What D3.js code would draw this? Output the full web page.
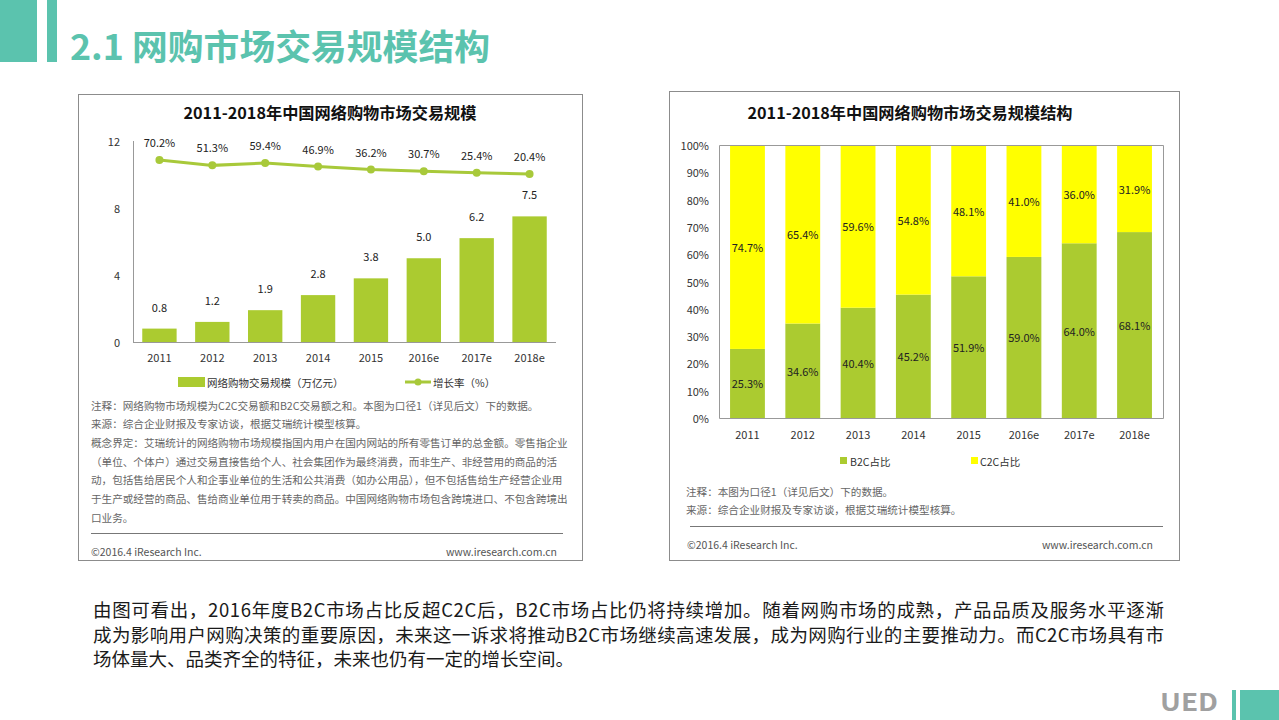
<!DOCTYPE html>
<html>
<head>
<meta charset="utf-8">
<script src="https://cdnjs.cloudflare.com/ajax/libs/d3/7.8.5/d3.min.js"></script>
<style>
  body { margin: 0; background: #fff; }
  svg { display: block; }
  text { font-family: "Noto Sans CJK SC", "Noto Sans", sans-serif; }
</style>
</head>
<body>
<div id="chart"></div>
<script>
// chart data
const years = ["2011", "2012", "2013", "2014", "2015", "2016e", "2017e", "2018e"];
const marketSize = [0.8, 1.2, 1.9, 2.8, 3.8, 5.0, 6.2, 7.5];     // 万亿元
const growthRate = [70.2, 51.3, 59.4, 46.9, 36.2, 30.7, 25.4, 20.4]; // %
const b2cShare = [25.3, 34.6, 40.4, 45.2, 51.9, 59.0, 64.0, 68.1];
const c2cShare = [74.7, 65.4, 59.6, 54.8, 48.1, 41.0, 36.0, 31.9];
const sizeTicks = [0, 4, 8, 12];
const shareTicks = [0, 10, 20, 30, 40, 50, 60, 70, 80, 90, 100];

const pageTitle = "2.1 网购市场交易规模结构";
const leftTitle = "2011-2018年中国网络购物市场交易规模";
const rightTitle = "2011-2018年中国网络购物市场交易规模结构";
const leftNotes = [
  "注释：网络购物市场规模为C2C交易额和B2C交易额之和。本图为口径1（详见后文）下的数据。",
  "来源：综合企业财报及专家访谈，根据艾瑞统计模型核算。",
  "概念界定：艾瑞统计的网络购物市场规模指国内用户在国内网站的所有零售订单的总金额。零售指企业",
  "（单位、个体户）通过交易直接售给个人、社会集团作为最终消费，而非生产、非经营用的商品的活",
  "动，包括售给居民个人和企事业单位的生活和公共消费（如办公用品），但不包括售给生产经营企业用",
  "于生产或经营的商品、售给商业单位用于转卖的商品。中国网络购物市场包含跨境进口、不包含跨境出",
  "口业务。"
];
const rightNotes = [
  "注释：本图为口径1（详见后文）下的数据。",
  "来源：综合企业财报及专家访谈，根据艾瑞统计模型核算。"
];
const paragraph = [
  "由图可看出，2016年度B2C市场占比反超C2C后，B2C市场占比仍将持续增加。随着网购市场的成熟，产品品质及服务水平逐渐",
  "成为影响用户网购决策的重要原因，未来这一诉求将推动B2C市场继续高速发展，成为网购行业的主要推动力。而C2C市场具有市",
  "场体量大、品类齐全的特征，未来也仍有一定的增长空间。"
];

const teal = "#5bc3ae", green = "#abcb30", lineGreen = "#a8c93a", yellow = "#ffff00";

const svg = d3.select("#chart").append("svg")
  .attr("width", 1279).attr("height", 720);

// header decoration + page title
svg.append("rect").attr("x", 0).attr("y", 0).attr("width", 37).attr("height", 62).attr("fill", teal);
svg.append("rect").attr("x", 47).attr("y", 0).attr("width", 10).attr("height", 62).attr("fill", teal);
svg.append("text").attr("x", 70).attr("y", 44)
  .attr("dominant-baseline", "central")
  .attr("font-size", 35).attr("font-weight", "bold").attr("fill", teal)
  .attr("textLength", 420).attr("lengthAdjust", "spacingAndGlyphs")
  .text(pageTitle);

// panel frames
svg.append("rect").attr("x", 78.5).attr("y", 94.5).attr("width", 504).attr("height", 466)
  .attr("fill", "none").attr("stroke", "#8c8c8c");
svg.append("rect").attr("x", 669.5).attr("y", 91.5).attr("width", 510).attr("height", 469)
  .attr("fill", "none").attr("stroke", "#8c8c8c");

// ---------------- left chart: market size + growth ----------------
const L = svg.append("g");
L.append("text").attr("x", 330).attr("y", 112).attr("text-anchor", "middle")
  .attr("dominant-baseline", "central").attr("font-size", 16).attr("font-weight", "bold")
  .attr("fill", "#111").attr("textLength", 293).attr("lengthAdjust", "spacingAndGlyphs")
  .text(leftTitle);

const xL = d3.scaleBand().domain(years).range([133, 556]).paddingInner(0.35).paddingOuter(0.175);
const yL = d3.scaleLinear().domain([0, 12]).range([342, 141]);
// hidden secondary axis for the growth line
const yG = d3.scaleLinear().domain([-577, 138]).range([342, 141]);

L.append("line").attr("x1", 133.5).attr("x2", 133.5).attr("y1", 141).attr("y2", 342).attr("stroke", "#999");
L.append("line").attr("x1", 133).attr("x2", 556).attr("y1", 342.5).attr("y2", 342.5).attr("stroke", "#999");

L.selectAll(".ytick").data(sizeTicks).enter().append("text")
  .attr("x", 120).attr("y", d => yL(d)).attr("text-anchor", "end")
  .attr("dominant-baseline", "central").attr("font-size", 11).attr("fill", "#333")
  .text(d => d);

L.selectAll(".xtick").data(years).enter().append("text")
  .attr("x", d => xL(d) + xL.bandwidth() / 2).attr("y", 357).attr("text-anchor", "middle")
  .attr("dominant-baseline", "central").attr("font-size", 11).attr("fill", "#333")
  .text(d => d);

L.selectAll(".bar").data(marketSize).enter().append("rect")
  .attr("x", (d, i) => xL(years[i])).attr("y", d => yL(d))
  .attr("width", xL.bandwidth()).attr("height", d => yL(0) - yL(d))
  .attr("fill", green);

L.selectAll(".barlab").data(marketSize).enter().append("text")
  .attr("x", (d, i) => xL(years[i]) + xL.bandwidth() / 2).attr("y", d => yL(d) - 22)
  .attr("text-anchor", "middle").attr("dominant-baseline", "central")
  .attr("font-size", 11).attr("fill", "#222")
  .text(d => d.toFixed(1));

const line = d3.line()
  .x((d, i) => xL(years[i]) + xL.bandwidth() / 2)
  .y(d => yG(d));
L.append("path").datum(growthRate).attr("d", line)
  .attr("fill", "none").attr("stroke", lineGreen).attr("stroke-width", 3);
L.selectAll(".dot").data(growthRate).enter().append("circle")
  .attr("cx", (d, i) => xL(years[i]) + xL.bandwidth() / 2).attr("cy", d => yG(d))
  .attr("r", 4).attr("fill", lineGreen);
L.selectAll(".glab").data(growthRate).enter().append("text")
  .attr("x", (d, i) => xL(years[i]) + xL.bandwidth() / 2).attr("y", d => yG(d) - 18)
  .attr("text-anchor", "middle").attr("dominant-baseline", "central")
  .attr("font-size", 11).attr("fill", "#222")
  .text(d => d.toFixed(1) + "%");

// left legend
L.append("rect").attr("x", 178).attr("y", 377).attr("width", 27).attr("height", 10).attr("fill", green);
L.append("text").attr("x", 207).attr("y", 382).attr("dominant-baseline", "central")
  .attr("font-size", 10.5).attr("fill", "#333").text("网络购物交易规模（万亿元）");
L.append("line").attr("x1", 405).attr("x2", 431).attr("y1", 382).attr("y2", 382)
  .attr("stroke", lineGreen).attr("stroke-width", 3);
L.append("circle").attr("cx", 418).attr("cy", 382).attr("r", 3.5).attr("fill", lineGreen);
L.append("text").attr("x", 433).attr("y", 382).attr("dominant-baseline", "central")
  .attr("font-size", 10.5).attr("fill", "#333").text("增长率（%）");

L.selectAll(".note").data(leftNotes).enter().append("text")
  .attr("x", 91).attr("y", (d, i) => 405 + i * 18.7).attr("dominant-baseline", "central")
  .attr("font-size", 10.6).attr("fill", "#666").text(d => d);

L.append("line").attr("x1", 91).attr("x2", 563).attr("y1", 533.5).attr("y2", 533.5).attr("stroke", "#777");
L.append("text").attr("x", 91).attr("y", 551).attr("dominant-baseline", "central")
  .attr("font-size", 10.5).attr("fill", "#555").attr("font-family", "Noto Sans")
  .text("©2016.4 iResearch Inc.");
L.append("text").attr("x", 557).attr("y", 551).attr("text-anchor", "end").attr("dominant-baseline", "central")
  .attr("font-size", 10.5).attr("fill", "#555").attr("font-family", "Noto Sans")
  .text("www.iresearch.com.cn");

// ---------------- right chart: B2C / C2C structure ----------------
const R = svg.append("g");
R.append("text").attr("x", 910).attr("y", 112).attr("text-anchor", "middle")
  .attr("dominant-baseline", "central").attr("font-size", 16).attr("font-weight", "bold")
  .attr("fill", "#111").attr("textLength", 325).attr("lengthAdjust", "spacingAndGlyphs")
  .text(rightTitle);

const xR = d3.scaleBand().domain(years).range([719, 1163]).paddingInner(0.37).paddingOuter(0.2);
const yR = d3.scaleLinear().domain([0, 100]).range([418, 145]);

R.selectAll(".ytick").data(shareTicks).enter().append("text")
  .attr("x", 709).attr("y", d => yR(d)).attr("text-anchor", "end")
  .attr("dominant-baseline", "central").attr("font-size", 11).attr("fill", "#333")
  .text(d => d + "%");

R.selectAll(".xtick").data(years).enter().append("text")
  .attr("x", d => xR(d) + xR.bandwidth() / 2).attr("y", 434).attr("text-anchor", "middle")
  .attr("dominant-baseline", "central").attr("font-size", 11).attr("fill", "#333")
  .text(d => d);

R.selectAll(".b2c").data(b2cShare).enter().append("rect")
  .attr("x", (d, i) => xR(years[i])).attr("y", d => yR(d))
  .attr("width", xR.bandwidth()).attr("height", d => yR(0) - yR(d))
  .attr("fill", green);
R.selectAll(".c2c").data(c2cShare).enter().append("rect")
  .attr("x", (d, i) => xR(years[i])).attr("y", (d, i) => yR(b2cShare[i] + d))
  .attr("width", xR.bandwidth()).attr("height", (d, i) => yR(b2cShare[i]) - yR(b2cShare[i] + d))
  .attr("fill", yellow);

R.selectAll(".b2clab").data(b2cShare).enter().append("text")
  .attr("x", (d, i) => xR(years[i]) + xR.bandwidth() / 2).attr("y", d => yR(d / 2))
  .attr("text-anchor", "middle").attr("dominant-baseline", "central")
  .attr("font-size", 11).attr("fill", "#222").text(d => d.toFixed(1) + "%");
R.selectAll(".c2clab").data(c2cShare).enter().append("text")
  .attr("x", (d, i) => xR(years[i]) + xR.bandwidth() / 2).attr("y", (d, i) => yR(b2cShare[i] + d / 2))
  .attr("text-anchor", "middle").attr("dominant-baseline", "central")
  .attr("font-size", 11).attr("fill", "#222").text(d => d.toFixed(1) + "%");

// plot frame
R.append("path")
  .attr("d", `M719.5,418.5V145.5H1163.5V418.5H719.5`)
  .attr("fill", "none").attr("stroke", "#999");

// right legend
R.append("rect").attr("x", 840).attr("y", 457).attr("width", 7).attr("height", 7).attr("fill", green);
R.append("text").attr("x", 850).attr("y", 461).attr("dominant-baseline", "central")
  .attr("font-size", 10.5).attr("fill", "#333").text("B2C占比");
R.append("rect").attr("x", 971).attr("y", 457).attr("width", 7).attr("height", 7).attr("fill", yellow);
R.append("text").attr("x", 980).attr("y", 461).attr("dominant-baseline", "central")
  .attr("font-size", 10.5).attr("fill", "#333").text("C2C占比");

R.selectAll(".note").data(rightNotes).enter().append("text")
  .attr("x", 686).attr("y", (d, i) => 491 + i * 18.5).attr("dominant-baseline", "central")
  .attr("font-size", 10.6).attr("fill", "#666").text(d => d);

R.append("line").attr("x1", 690).attr("x2", 1163).attr("y1", 526.5).attr("y2", 526.5).attr("stroke", "#777");
R.append("text").attr("x", 687).attr("y", 544).attr("dominant-baseline", "central")
  .attr("font-size", 10.5).attr("fill", "#555").attr("font-family", "Noto Sans")
  .text("©2016.4 iResearch Inc.");
R.append("text").attr("x", 1153).attr("y", 544).attr("text-anchor", "end").attr("dominant-baseline", "central")
  .attr("font-size", 10.5).attr("fill", "#555").attr("font-family", "Noto Sans")
  .text("www.iresearch.com.cn");

// ---------------- paragraph ----------------
svg.selectAll(".para").data(paragraph).enter().append("text")
  .attr("x", 93).attr("y", (d, i) => 609 + i * 24.5).attr("dominant-baseline", "central")
  .attr("font-size", 18.5).attr("fill", "#1a1a1a")
  .each(function(d, i) {
    if (i < 2) d3.select(this).attr("textLength", 1071).attr("lengthAdjust", "spacing");
  })
  .text(d => d);

// ---------------- footer logo ----------------
svg.append("text").attr("x", 1160).attr("y", 700).attr("dominant-baseline", "central")
  .attr("font-family", "Open Sans").attr("font-size", 24).attr("font-weight", 600)
  .attr("fill", "#a0a0a0").attr("textLength", 58).attr("lengthAdjust", "spacingAndGlyphs")
  .text("UED");
svg.append("rect").attr("x", 1232).attr("y", 690).attr("width", 4).attr("height", 30).attr("fill", teal);
svg.append("rect").attr("x", 1240).attr("y", 690).attr("width", 39).attr("height", 30).attr("fill", teal);
</script>
</body>
</html>
